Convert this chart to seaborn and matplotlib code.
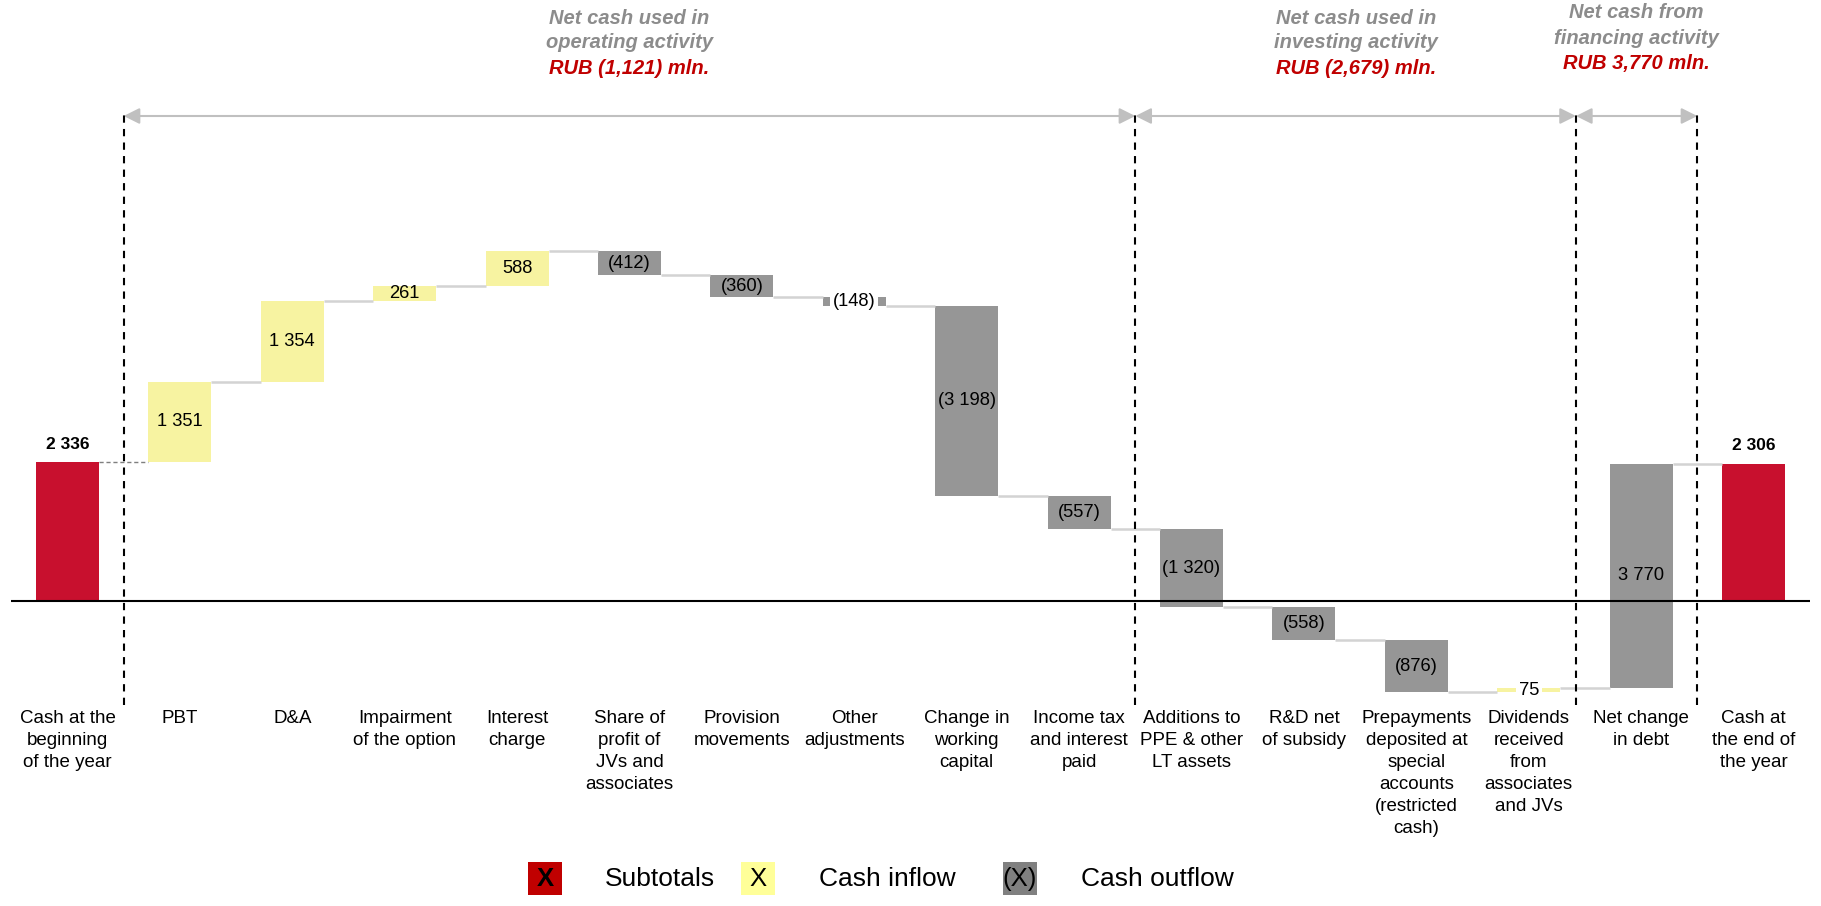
import matplotlib.pyplot as plt
import matplotlib.patches as mpatches
import seaborn as sns

# Chart data
categories = ['Cash at the\nbeginning\nof the year', 'PBT', 'D&A', 'Impairment\nof the option',
              'Interest\ncharge', 'Share of\nprofit of\nJVs and\nassociates', 'Provision\nmovements',
              'Other\nadjustments', 'Change in\nworking\ncapital', 'Income tax\nand interest\npaid',
              'Additions to\nPPE & other\nLT assets', 'R&D net\nof subsidy',
              'Prepayments\ndeposited at\nspecial\naccounts\n(restricted\ncash)',
              'Dividends\nreceived\nfrom\nassociates\nand JVs', 'Net change\nin debt',
              'Cash at\nthe end of\nthe year']
values = [2336, 1351, 1354, 261, 588, -412, -360, -148, -3198, -557, -1320, -558, -876, 75, 3770, 2306]
kinds = ['total', 'in', 'in', 'in', 'in', 'out', 'out', 'out', 'out', 'out',
         'out', 'out', 'out', 'in', 'out', 'total']

section_line1 = ['Net cash used in', 'Net cash used in', 'Net cash from']
section_line2 = ['operating activity', 'investing activity', 'financing activity']
section_totals = ['RUB (1,121) mln.', 'RUB (2,679) mln.', 'RUB 3,770 mln.']

legend_swatch_text = ['X', 'X', '(X)']
legend_labels = ['Subtotals', 'Cash inflow', 'Cash outflow']

# Colours
bar_colors = {'total': '#c8102e', 'in': '#f7f3a1', 'out': '#969696'}
legend_colors = ['#c00000', '#ffff99', '#808080']
header_gray = '#8c8c8c'
header_red = '#c00000'

# Running totals for the waterfall
bottoms = []
running = 0
for v, k in zip(values, kinds):
    if k == 'total':
        bottoms.append(0)
        running = v
    else:
        bottoms.append(running)
        running += v
tops = [b + v for b, v in zip(bottoms, values)]

sns.set_theme(style='white')
plt.rcParams['font.family'] = ['Liberation Sans', 'DejaVu Sans']

W, H = 1821, 906
fig = plt.figure(figsize=(W / 100, H / 100), dpi=100)
ax = fig.add_axes([0, 0, 1, 1])

bar_w = 0.56
sns.barplot(x=categories, y=values, order=categories, bottom=bottoms, width=bar_w,
            color='#969696', saturation=1, errorbar=None, linewidth=0, ax=ax)
for patch, k in zip(ax.patches, kinds):
    patch.set_facecolor(bar_colors[k])

n = len(values)
scale = 16.82  # value units per pixel
ax.set_ylim(-(H - 601) * scale, 601 * scale)
ax.set_xlim(-0.6, n - 0.4)
ax.set_axis_off()

# baseline
ax.hlines(0, -0.5, n - 0.5, color='black', lw=1.5, zorder=3)

# connectors
for i in range(n - 1):
    x0, x1 = i + bar_w / 2, i + 1 - bar_w / 2
    if i == 0:
        ax.hlines(tops[i], x0, x1, color='#7f7f7f', lw=1, linestyles=(0, (3, 2)), zorder=2)
    else:
        ax.hlines(tops[i], x0, x1, color='#d3d3d3', lw=1.8, zorder=2)

# value labels
for i, (v, k) in enumerate(zip(values, kinds)):
    txt = f'{abs(v):,}'.replace(',', ' ')
    if v < 0:
        txt = f'({txt})'
    if k == 'total':
        ax.annotate(txt, (i, tops[i]), xytext=(0, 13), textcoords='offset points',
                    ha='center', va='center', fontsize=12.5, fontweight='bold', color='black')
    else:
        box = None
        if abs(v) < 200:
            box = dict(boxstyle='square,pad=0.15', fc='white', ec='none')
        ax.text(i, bottoms[i] + v / 2, txt, ha='center', va='center', fontsize=13.2,
                color='black', bbox=box, zorder=4)

# category labels
xt = ax.get_xaxis_transform()
for i, lab in enumerate(categories):
    ax.text(i, 1 - 710 / H, lab, transform=xt, ha='center', va='top', fontsize=13.5,
            linespacing=1.38, color='black')

# section separators, arrows and headers
bounds = [0.5, 9.5, 13.42, 14.5]
y_arrow = (601 - 116) * scale
for b in bounds:
    ax.vlines(b, (601 - 705) * scale, (601 - 113) * scale, color='black', lw=1.5,
              linestyles=(0, (3.5, 3)), zorder=3)
header_shift = [0, 0, -5]
hdr = dict(ha='center', va='center', fontsize=14.5, fontweight='bold', fontstyle='italic')
for j in range(3):
    a, b = bounds[j], bounds[j + 1]
    ax.annotate('', xy=(b, y_arrow), xytext=(a, y_arrow),
                arrowprops=dict(arrowstyle='<|-|>', color='#c0c0c0', lw=1.5,
                                mutation_scale=24, shrinkA=0, shrinkB=0))
    cx = (a + b) / 2
    sh = header_shift[j]
    ax.text(cx, 1 - (18 + sh) / H, section_line1[j], transform=xt, color=header_gray, **hdr)
    ax.text(cx, 1 - (43 + sh) / H, section_line2[j], transform=xt, color=header_gray, **hdr)
    ax.text(cx, 1 - (68 + sh) / H, section_totals[j], transform=xt, color=header_red, **hdr)

# legend
sw_x = [528, 741, 1003]
lab_x = [605, 819, 1081]
for j in range(3):
    rect = mpatches.Rectangle((sw_x[j] / W, 1 - 895 / H), 34 / W, 33 / H,
                              transform=fig.transFigure, fc=legend_colors[j], ec='none')
    fig.add_artist(rect)
    fig.text((sw_x[j] + 17) / W, 1 - 879 / H, legend_swatch_text[j], ha='center', va='center',
             fontsize=18.5, fontweight='bold' if j == 0 else 'normal', color='black')
    fig.text(lab_x[j] / W, 1 - 879 / H, legend_labels[j], ha='left', va='center',
             fontsize=19, color='black')

fig.savefig('out.png', dpi=100)
